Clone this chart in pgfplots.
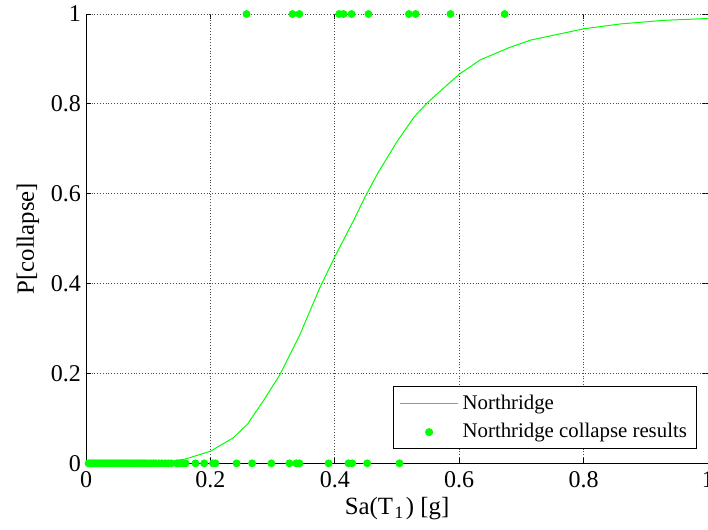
\documentclass[border=0pt]{standalone}
\usepackage{fontspec}
\setmainfont{Liberation Serif}
\usepackage{pgfplots}
\pgfplotsset{compat=1.18}

% Legend samples: a plain line, and one centred marker
\pgfplotsset{
  curve sample/.style={legend image code/.code={\draw[##1] (0pt,0pt) -- (29pt,0pt);}},
  dot sample/.style={legend image code/.code={\draw[mark repeat=2, mark phase=2, ##1]
    plot coordinates {(0pt,0pt) (14.5pt,0pt) (29pt,0pt)};}},
  frame size/.style={scale only axis, width=310.75pt, height=224.5pt,
    xmin=0, xmax=1, ymin=0, ymax=1,
    xtick={0,0.2,0.4,0.6,0.8,1}, ytick={0,0.2,0.4,0.6,0.8,1},
    tick align=inside, major tick length=2.5pt,
    tick style={black, line width=0.5pt}},
}

% Fragility curve (probability of collapse vs spectral acceleration)
\pgfplotstableread{
x      p
0.000  0.000
0.050  0.000
0.100  0.002
0.140  0.005
0.161  0.010
0.200  0.027
0.237  0.057
0.260  0.088
0.285  0.139
0.312  0.198
0.344  0.287
0.376  0.391
0.400  0.460
0.430  0.540
0.449  0.594
0.470  0.648
0.500  0.716
0.527  0.770
0.549  0.803
0.600  0.866
0.634  0.898
0.680  0.925
0.715  0.942
0.800  0.967
0.860  0.978
0.930  0.986
1.000  0.990
}\curve

% Individual analysis outcomes: 1 = collapse, 0 = no collapse
\pgfplotstableread{
x      c
0.004  0
0.007  0
0.009  0
0.012  0
0.015  0
0.018  0
0.021  0
0.024  0
0.027  0
0.030  0
0.033  0
0.036  0
0.039  0
0.042  0
0.045  0
0.048  0
0.051  0
0.054  0
0.057  0
0.060  0
0.063  0
0.066  0
0.069  0
0.072  0
0.075  0
0.078  0
0.081  0
0.084  0
0.087  0
0.090  0
0.093  0
0.096  0
0.100  0
0.104  0
0.108  0
0.112  0
0.117  0
0.122  0
0.127  0
0.132  0
0.137  0
0.146  0
0.151  0
0.156  0
0.160  0
0.176  0
0.190  0
0.204  0
0.208  0
0.242  0
0.267  0
0.298  0
0.327  0
0.338  0
0.343  0
0.390  0
0.422  0
0.428  0
0.452  0
0.504  0
0.258  1
0.332  1
0.343  1
0.407  1
0.414  1
0.427  1
0.454  1
0.519  1
0.530  1
0.586  1
0.673  1
}\results

\begin{document}
\begin{tikzpicture}
% tick marks along the top and right edges (no edge lines there)
\begin{axis}[
  frame size,
  axis x line*=top, axis y line*=right,
  axis line style={draw=none},
  xticklabels={}, yticklabels={},
]
\end{axis}
\begin{axis}[
  frame size,
  xticklabels={0,0.2,0.4,0.6,0.8,1},
  yticklabels={0,0.2,0.4,0.6,0.8,1},
  axis x line*=bottom, axis y line*=left,
  axis line style={black, line width=0.5pt, -},
  grid=major,
  grid style={densely dotted, black!70, line width=0.5pt},
  every tick label/.append style={font=\fontsize{12}{13}\selectfont},
  xticklabel style={yshift=-0.5pt},
  yticklabel style={xshift=1pt},
  label style={font=\fontsize{12.4}{14}\selectfont},
  xlabel={Sa(T\kern0.8pt\textsubscript{1}\kern0.8pt) [g]},
  xlabel style={yshift=2pt},
  ylabel={P[collapse]},
  ylabel style={yshift=-1pt},
  clip mode=individual,
  legend cell align=left,
  legend style={
    at={(rel axis cs:0.983,0.031)}, anchor=south east,
    draw=black, line width=0.5pt,
    font=\fontsize{10.4}{12}\selectfont,
    row sep=1.5pt,
  },
]
\addplot[green, line width=0.5pt, curve sample]
  table[x=x, y=p] {\curve};
\addlegendentry{Northridge}

\addplot[only marks, mark=*, mark size=1.75pt, green, draw=green, fill=green, dot sample]
  table[x=x, y=c] {\results};
\addlegendentry{Northridge collapse results}
\end{axis}
% page frame: margins for the labels, right edge flush with the plot area
\pgfresetboundingbox
\path ([xshift=-43pt, yshift=-33pt]current axis.south west)
      rectangle ([yshift=7pt]current axis.north east);
\end{tikzpicture}
\end{document}
